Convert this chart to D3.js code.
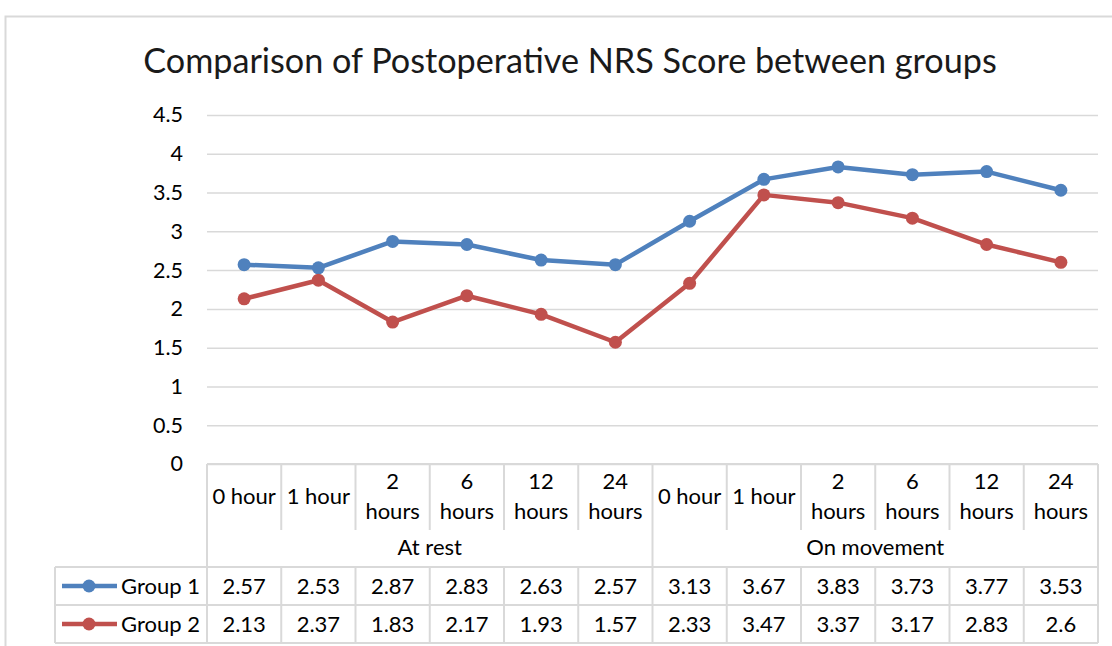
<!DOCTYPE html>
<html><head><meta charset="utf-8">
<script src="https://cdn.jsdelivr.net/npm/d3@7"></script>
<style>body{margin:0;background:#fff;}svg{display:block;font-family:Lato,"Open Sans",sans-serif;}</style>
</head><body>
<svg id="c" width="1112" height="646"></svg>
<script>
const title = "Comparison of Postoperative NRS Score between groups";
const timeLabels = ["0 hour","1 hour","2 hours","6 hours","12 hours","24 hours","0 hour","1 hour","2 hours","6 hours","12 hours","24 hours"];
const conditions = ["At rest","On movement"];
const seriesNames = ["Group 1","Group 2"];
const group1 = [2.57,2.53,2.87,2.83,2.63,2.57,3.13,3.67,3.83,3.73,3.77,3.53];
const group2 = [2.13,2.37,1.83,2.17,1.93,1.57,2.33,3.47,3.37,3.17,2.83,2.6];
const yTicks = [0,0.5,1,1.5,2,2.5,3,3.5,4,4.5];
const colors = ["#4f81bd","#c0504d"];

const svg = d3.select("#c");
const grid = "#d9d9d9";
const L=207, R=1098, T=115, B=464;
const x = d3.scaleBand().domain(d3.range(timeLabels.length)).range([L,R]);
const y = d3.scaleLinear().domain([0,4.5]).range([B,T]);

// outer frame
svg.append("rect").attr("x",5.5).attr("y",16.5).attr("width",1120).attr("height",700).attr("fill","none").attr("stroke",grid).attr("stroke-width",2);

svg.append("text").attr("x",570).attr("y",73).attr("text-anchor","middle").attr("font-size",34.2).attr("fill","#1a1a1a").text(title);

// gridlines
const yAxis = d3.axisLeft(y).tickValues(yTicks).tickSize(-(R-L)).tickFormat(d=>String(d));
const ga = svg.append("g").attr("transform",`translate(${L},0)`).call(yAxis);
ga.select(".domain").remove();
ga.selectAll(".tick line").attr("stroke",grid).attr("stroke-width",1.5);
ga.selectAll(".tick text").attr("x",-24).attr("font-size",21.5).attr("fill","#000").attr("font-family","Lato");

// table lines
const tl = svg.append("g").attr("stroke",grid).attr("stroke-width",2).attr("fill","none");
const rowTop=464, hdrBot=530, grpBot=567, r1Bot=605, r2Bot=643;
tl.append("line").attr("x1",L).attr("x2",R).attr("y1",rowTop).attr("y2",rowTop);
tl.append("line").attr("x1",55).attr("x2",R).attr("y1",grpBot).attr("y2",grpBot);
tl.append("line").attr("x1",55).attr("x2",R).attr("y1",r1Bot).attr("y2",r1Bot);
tl.append("line").attr("x1",55).attr("x2",R).attr("y1",r2Bot).attr("y2",r2Bot);
tl.append("line").attr("x1",55).attr("x2",55).attr("y1",grpBot).attr("y2",r2Bot);
d3.range(timeLabels.length+1).forEach(i=>{
  const xx = i<timeLabels.length ? x(i) : R;
  const full = (i===0||i===6||i===12);
  tl.append("line").attr("x1",xx).attr("x2",xx).attr("y1",rowTop).attr("y2",full?r2Bot:hdrBot);
  if(!full) tl.append("line").attr("x1",xx).attr("x2",xx).attr("y1",grpBot).attr("y2",r2Bot);
});

// category labels
const fs=22;
timeLabels.forEach((t,i)=>{
  const cx = x(i)+x.bandwidth()/2;
  const parts = t.split(" ");
  const tx = svg.append("text").attr("text-anchor","middle").attr("font-size",fs).attr("fill","#000");
  if(parts[0]==="0"||parts[0]==="1"){
    tx.attr("x",cx).attr("y",504).text(t);
  } else {
    tx.append("tspan").attr("x",cx).attr("y",489).text(parts[0]);
    tx.append("tspan").attr("x",cx).attr("y",519).text(parts[1]);
  }
});
conditions.forEach((c,k)=>{
  const x0=x(k*6), x1=k===0?x(6):R;
  svg.append("text").attr("x",(x0+x1)/2).attr("y",555).attr("text-anchor","middle").attr("font-size",fs).attr("fill","#000").text(c);
});

// lines
const line = d3.line().x((d,i)=>x(i)+x.bandwidth()/2).y(d=>y(d));
[group1,group2].forEach((s,k)=>{
  svg.append("path").datum(s).attr("d",line).attr("fill","none").attr("stroke",colors[k]).attr("stroke-width",4.5).attr("stroke-linejoin","round");
  svg.selectAll(null).data(s).enter().append("circle").attr("cx",(d,i)=>x(i)+x.bandwidth()/2).attr("cy",d=>y(d)).attr("r",6.5).attr("fill",colors[k]);
  // table row
  const cy = k===0 ? 586 : 624;
  s.forEach((v,i)=>{
    svg.append("text").attr("x",x(i)+x.bandwidth()/2).attr("y",cy+7.5).attr("text-anchor","middle").attr("font-size",fs).attr("fill","#000").text(String(v));
  });
  svg.append("line").attr("x1",62).attr("x2",117).attr("y1",cy).attr("y2",cy).attr("stroke",colors[k]).attr("stroke-width",4.5);
  svg.append("circle").attr("cx",89).attr("cy",cy).attr("r",6.5).attr("fill",colors[k]);
  svg.append("text").attr("x",121).attr("y",cy+7.5).attr("font-size",fs).attr("fill","#000").text(seriesNames[k]);
});
</script>
</body></html>
